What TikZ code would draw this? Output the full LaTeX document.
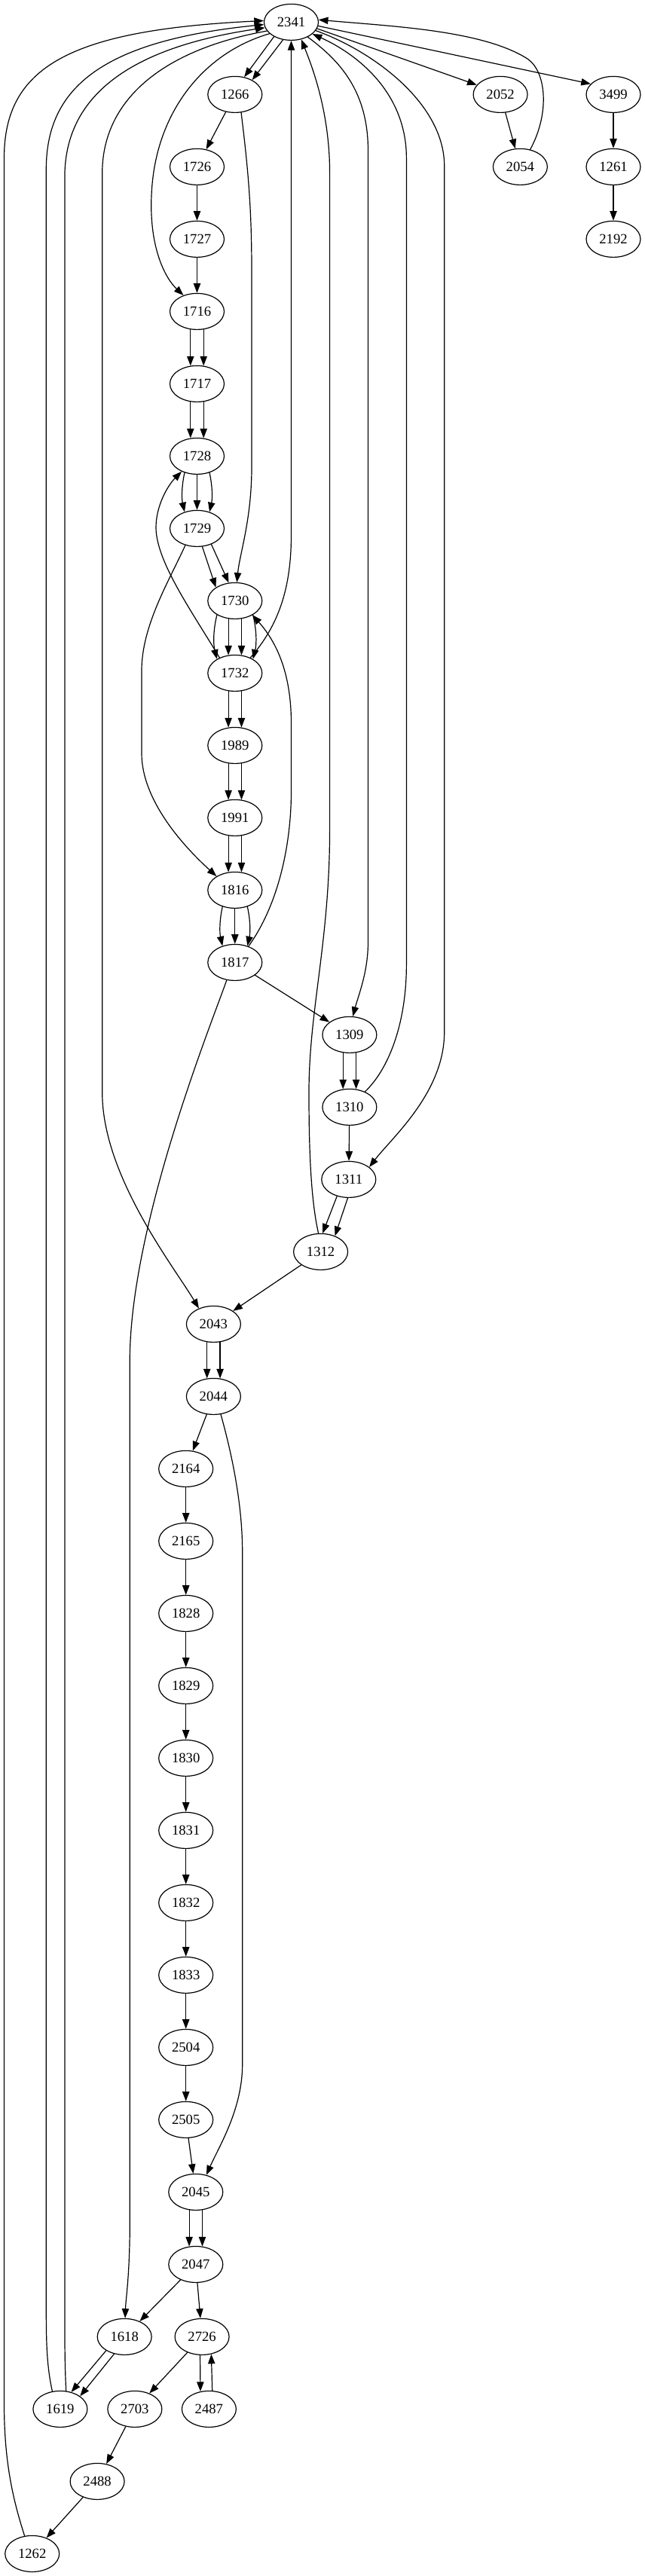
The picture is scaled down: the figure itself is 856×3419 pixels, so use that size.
\documentclass[tikz,border=0pt]{standalone}
\usepackage{fontspec}
\setmainfont{Liberation Serif}
\usetikzlibrary{arrows.meta,shapes.geometric,calc}

\begin{document}
\begin{tikzpicture}[line cap=round,line join=round,x=0.75pt,y=-0.75pt,
  vtx/.style={draw,ellipse,line width=0.9pt,minimum width=54pt,minimum height=36pt,inner sep=0pt,font=\fontsize{14}{16}\selectfont},
  flow/.style={line width=0.9pt,-{Triangle[length=9.5pt,width=7pt]}}]
\useasboundingbox (0,0) rectangle (856,3419);
% nodes: name / x / rank
\foreach \v/\x/\r in {2341/386.5/0,
  1266/311.8/1, 2052/664.1/1, 3499/814/1,
  1726/261.5/2, 2054/690.4/2, 1261/814/2,
  1727/261.5/3, 2192/814/3,
  1716/261.5/4, 1717/261.5/5, 1728/261.5/6, 1729/261.5/7,
  1730/311.8/8, 1732/311.8/9, 1989/311.8/10, 1991/311.8/11, 1816/311.8/12, 1817/311.8/13,
  1309/463.9/14, 1310/463.9/15, 1311/462.8/16, 1312/425.6/17,
  2043/283.4/18, 2044/283.4/19,
  2164/246.7/20, 2165/246.7/21, 1828/246.7/22, 1829/246.7/23, 1830/246.7/24,
  1831/246.7/25, 1832/246.7/26, 1833/246.7/27, 2504/246.7/28, 2505/246.7/29,
  2045/259.8/30, 2047/259.8/31,
  1618/165.2/32, 2726/268.1/32,
  1619/79.9/33, 2703/178.9/33, 2487/277.4/33,
  2488/129.1/34, 1262/42.7/35}
  \node[vtx] (n\v) at (\x,{29.4+96*\r}) {\v};
% single edges
\foreach \a/\b in {1266/1726,1726/1727,1727/1716,2052/2054,3499/1261,1261/2192,
  1817/1309,1310/1311,1312/2043,2044/2164,2164/2165,2165/1828,1828/1829,1829/1830,
  1830/1831,1831/1832,1832/1833,1833/2504,2504/2505,2505/2045,
  2047/1618,2047/2726,2726/2703,2703/2488,2488/1262}
  \draw[flow] (n\a) -- (n\b);
% double edges
\foreach \a/\b in {1716/1717,1717/1728,1730/1732,1732/1989,1989/1991,1991/1816,1309/1310,2043/2044,2045/2047}
{
  \draw[flow] (n\a.250) -- (n\b.110);
  \draw[flow] (n\a.290) -- (n\b.70);
};
% triple edges
\foreach \a/\b in {1728/1729,1816/1817}
{
  \draw[flow] (n\a) -- (n\b);
  \draw[flow] (n\a.233) .. controls ($(n\a.233)+(-4,18)$) and ($(n\b.127)+(-4,-18)$) .. (n\b.127);
  \draw[flow] (n\a.307) .. controls ($(n\a.307)+(4,18)$) and ($(n\b.53)+(4,-18)$) .. (n\b.53);
};
\draw[flow] (n1730.218) .. controls ($(n1730.218)+(-5,20)$) and ($(n1732.142)+(-5,-20)$) .. (n1732.142);
\draw[flow] (n1730.322) .. controls ($(n1730.322)+(5,20)$) and ($(n1732.38)+(5,-20)$) .. (n1732.38);
\draw[flow] (n2341.220) -- (n1266.62);
\draw[flow] (n2341.245) -- (n1266.40);
\draw[flow] (n1729.286) -- (n1730.145);
\draw[flow] (n1729.312) -- (n1730.109);
\draw[flow] (n1311.235) -- (n1312.84);
\draw[flow] (n1311.267) -- (n1312.48);
\draw[flow] (n1618.217) -- (n1619.57);
\draw[flow] (n1618.239) -- (n1619.33);
\draw[flow] (n2726.264) -- (n2487.116);
\draw[flow] (n2487.80) -- (n2726.298);
\draw[flow] (n2341.346) -- (n2052.158);
\draw[flow] (n2341.352) -- (n3499.155);
% long edges, left side
\draw[flow] (n1262.113) .. controls (18,3320) and (5.5,3270) .. (5.5,3190) -- (5.5,210) .. controls (5.5,90) and (90,40) .. (n2341.177);
\draw[flow] (n1619.114) .. controls (62,3140) and (61.3,3110) .. (61.3,3060) -- (61.3,225) .. controls (61.3,120) and (130,55) .. (n2341.185);
\draw[flow] (n1619.72) .. controls (86,3140) and (85.9,3110) .. (85.9,3060) -- (85.9,235) .. controls (85.9,135) and (160,65) .. (n2341.192);
\draw[flow] (n2341.200) .. controls (220,65) and (135.7,130) .. (135.7,230) -- (135.7,1450) .. controls (135.7,1560) and (230,1680) .. (n2043.133);
\draw[flow] (n2341.208) .. controls (270,70) and (205,150) .. (201,260) .. controls (198,330) and (220,370) .. (n1716.130);
\draw[flow] (n1266.289) .. controls (330,230) and (334,280) .. (334,360) -- (334,620) .. controls (334,690) and (318,735) .. (n1730.84);
\draw[flow] (n1732.135) .. controls (255,812) and (207,745) .. (207,700) .. controls (207,672) and (222,645) .. (n1728.225);
\draw[flow] (n1729.235) .. controls (225,770) and (188,830) .. (188,890) -- (188,1000) .. controls (188,1060) and (240,1120) .. (n1816.143);
\draw[flow] (n1817.245) .. controls (280,1360) and (175,1620) .. (172.3,1800) -- (172.3,2950) .. controls (172.3,3020) and (167,3050) .. (n1618);
\draw[flow] (n2044.292) .. controls (305,1920) and (321.7,1990) .. (321.7,2060) -- (321.7,2740) .. controls (321.7,2800) and (290,2850) .. (n2045.58);
% long edges, right side
\draw[flow] (n1732.45) .. controls (370,830) and (386.5,780) .. (386.5,710) -- (n2341);
\draw[flow] (n1817.50) .. controls (370,1200) and (386.5,1120) .. (386.5,1050) -- (386.5,960) .. controls (386.5,890) and (365,850) .. (n1730.321);
\draw[flow] (n2341.318) .. controls (450,80) and (488.5,120) .. (488.5,200) -- (488.5,1250) .. controls (488.5,1290) and (476,1320) .. (n1309.80);
\draw[flow] (n1310.45) .. controls (515,1420) and (539.4,1360) .. (539.4,1280) -- (539.4,210) .. controls (539.4,120) and (470,70) .. (n2341.331);
\draw[flow] (n2341.341) .. controls (500,70) and (589.7,140) .. (589.7,220) -- (589.7,1370) .. controls (589.7,1450) and (520,1510) .. (n1311.31);
\draw[flow] (n1312.97) .. controls (412,1590) and (410,1520) .. (410,1450) .. controls (410,1340) and (437.6,1250) .. (437.6,1100) -- (437.6,230) .. controls (437.6,150) and (415,90) .. (n2341.300);
\draw[flow] (n2054.60) .. controls (730,150) and (725,95) .. (700,78) .. controls (640,40) and (520,35) .. (n2341.5);
\end{tikzpicture}
\end{document}
